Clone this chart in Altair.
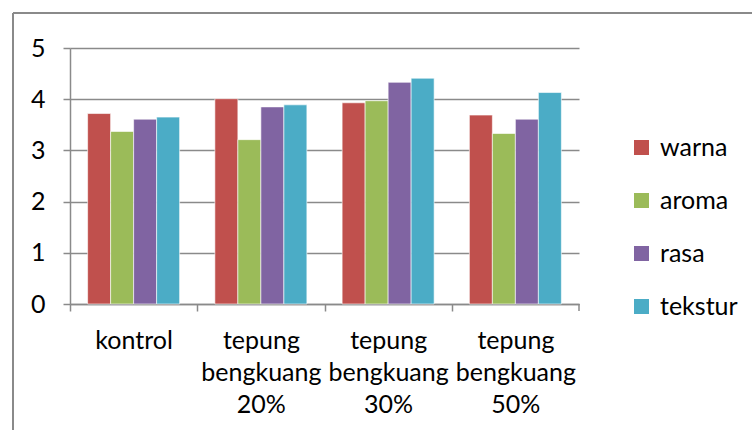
import altair as alt
import pandas as pd

categories = ["kontrol", "tepung bengkuang 20%", "tepung bengkuang 30%", "tepung bengkuang 50%"]
series = ["warna", "aroma", "rasa", "tekstur"]
warna = [3.72, 4.01, 3.93, 3.69]
aroma = [3.37, 3.21, 3.97, 3.33]
rasa = [3.61, 3.85, 4.33, 3.61]
tekstur = [3.65, 3.89, 4.41, 4.13]
colors = ["#C0504D", "#9BBB59", "#8064A2", "#4BACC6"]
y_ticks = [0, 1, 2, 3, 4, 5]

rows = []
for s, vals in zip(series, [warna, aroma, rasa, tekstur]):
    for c, v in zip(categories, vals):
        rows.append({"category": c, "series": s, "value": v})
df = pd.DataFrame(rows)

W, H = 509, 256
STEP = W / len(categories)
FONT = "Lato"
GRAY = "#8a8a8a"

bars = alt.Chart(df).mark_bar(stroke="white", strokeWidth=0.6).encode(
    x=alt.X(
        "category:N",
        sort=categories,
        scale=alt.Scale(paddingInner=0, paddingOuter=0),
        axis=alt.Axis(
            title=None,
            labelAngle=0,
            labelExpr="split(datum.label, ' ')",
            labelFont=FONT,
            labelFontSize=25,
            labelColor="#000000",
            labelLineHeight=32,
            labelBaseline="alphabetic",
            labelPadding=37,
            labelAlign="center",
            tickOffset=-STEP / 2,
            labelOffset=STEP / 2,
            tickSize=7,
            tickColor=GRAY,
            tickWidth=1.5,
            domainColor=GRAY,
            domainWidth=1.5,
            grid=False,
        ),
    ),
    xOffset=alt.XOffset(
        "series:N", sort=series,
        scale=alt.Scale(paddingInner=0, paddingOuter=0.766),
    ),
    y=alt.Y(
        "value:Q",
        scale=alt.Scale(domain=[0, 5], nice=False),
        axis=alt.Axis(
            title=None,
            values=y_ticks,
            labelFont=FONT,
            labelFontSize=25,
            labelColor="#000000",
            labelPadding=18,
            tickSize=7,
            tickColor=GRAY,
            tickWidth=1.5,
            domainColor=GRAY,
            domainWidth=1.5,
            grid=True,
            gridColor=GRAY,
            gridWidth=1.5,
        ),
    ),
    color=alt.Color(
        "series:N",
        sort=series,
        scale=alt.Scale(domain=series, range=colors),
        legend=alt.Legend(
            title=None,
            orient="none",
            legendX=559,
            legendY=87,
            symbolType="square",
            symbolSize=225,
            symbolStrokeWidth=0,
            labelFont=FONT,
            labelFontSize=25,
            labelColor="#000000",
            labelOffset=6,
            rowPadding=27,
            padding=0,
        ),
    ),
)

one = pd.DataFrame({"a": [0]})
last_tick = alt.Chart(one).mark_rule(color=GRAY, strokeWidth=1.5).encode(
    x=alt.value(W), y=alt.value(H), y2=alt.value(H + 7)
)
border_top = alt.Chart(one).mark_rule(color=GRAY, strokeWidth=2).encode(
    x=alt.value(-57), x2=alt.value(720), y=alt.value(-35)
)
border_left = alt.Chart(one).mark_rule(color=GRAY, strokeWidth=2).encode(
    x=alt.value(-57), y=alt.value(-35), y2=alt.value(420)
)

chart = alt.layer(bars, last_tick, border_top, border_left).properties(
    width=W,
    height=H,
    autosize=alt.AutoSizeParams(type="none"),
    padding={"left": 70, "top": 48, "right": 752 - 70 - W, "bottom": 430 - 48 - H},
    background="white",
).configure_view(stroke=None)

chart.save("out.html", embed_options={"renderer": "svg", "actions": False})
